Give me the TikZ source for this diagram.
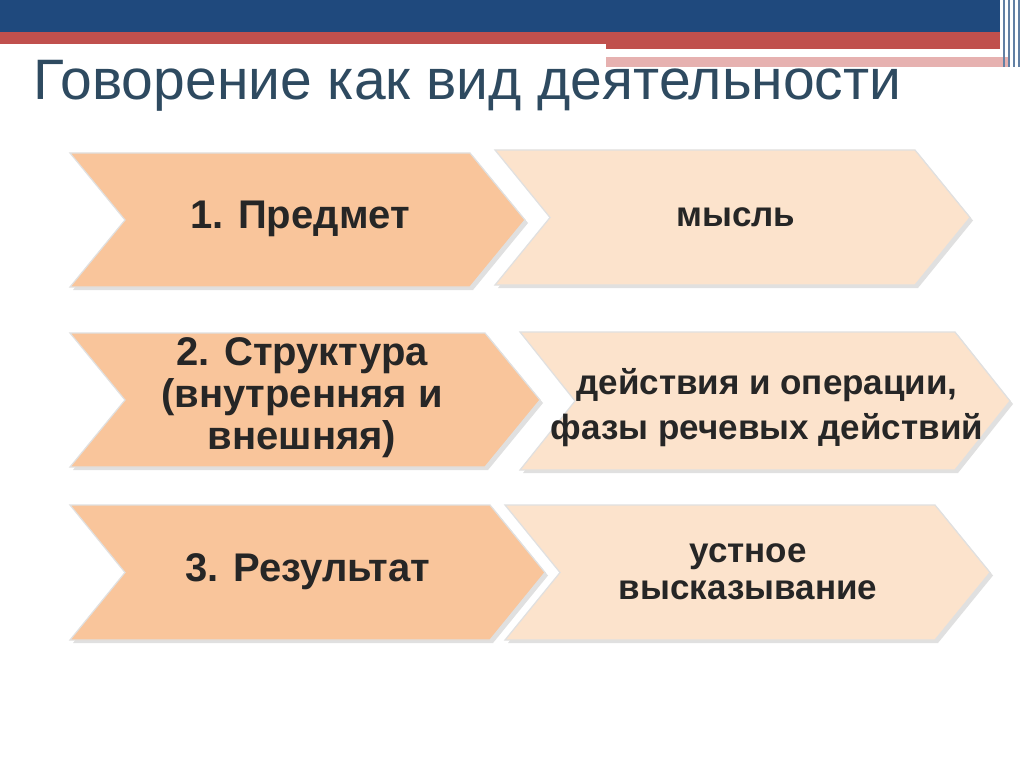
\documentclass[tikz,border=0pt]{standalone}
\usepackage{fontspec}
\setmainfont{Liberation Sans}
\definecolor{topblue}{HTML}{1F497D}
\definecolor{topred}{HTML}{C0504D}
\definecolor{toppink}{HTML}{E6B1B0}
\definecolor{leftc}{HTML}{F9C59B}
\definecolor{rightc}{HTML}{FCE3CC}
\definecolor{titlec}{HTML}{2E4A60}
\tikzset{
 chev/.style={draw=white!88!black,line width=1.2pt},
 lt/.style={font=\bfseries\fontsize{40}{42}\selectfont,align=center,text=black!85},
 rt/.style={font=\bfseries\fontsize{35}{45}\selectfont,align=center,text=black!85}
}
\newcommand{\chevron}[6]{% fill, x1, x2, ytop, ybot, depth
 \fill[black!12] ({#2+3},{-#4-3}) -- ({#3-#6+3},{-#4-3}) -- ({#3+3},{-(#4+#5)/2-3}) -- ({#3-#6+3},{-#5-3}) -- ({#2+3},{-#5-3}) -- ({#2+#6+3},{-(#4+#5)/2-3}) -- cycle;
 \draw[chev,fill=#1] (#2,-#4) -- ({#3-#6},-#4) -- (#3,{-(#4+#5)/2}) -- ({#3-#6},-#5) -- (#2,-#5) -- ({#2+#6},{-(#4+#5)/2}) -- cycle;}
\begin{document}
\begin{tikzpicture}[x=1pt,y=1pt]
\useasboundingbox (0,0) rectangle (1024,-767);
\fill[white] (0,0) rectangle (1024,-767);
\fill[topblue] (0,0) rectangle (1000,-32);
\fill[topred] (0,-32) rectangle (1000,-44);
\fill[topred] (606,-44) rectangle (1000,-49);
\fill[toppink] (606,-57) rectangle (1010,-67);
\foreach \xx in {1003,1008,1013,1018} \fill[topblue!70] (\xx,0) rectangle ({\xx+2},-67);
\node[anchor=west,text=titlec,font=\fontsize{57}{60}\selectfont] (title) at (30,-86) {Говорение как вид деятельности};
\chevron{rightc}{495}{970}{150}{285}{55}
\chevron{leftc}{70}{525}{153}{287}{55}
\chevron{rightc}{520}{1010}{332}{470}{55}
\chevron{leftc}{70}{540}{333}{467}{55}
\chevron{rightc}{505}{990}{505}{640}{55}
\chevron{leftc}{70}{545}{505}{640}{55}
\node[lt] (l1) at (300,-219) {1. Предмет};
\node[lt] (l2) at (302,-398) {2. Структура\\(внутренняя и\\внешняя)};
\node[lt] (l3) at (308,-572) {3. Результат};
\node[rt] (r1) at (736,-217) {мысль};
\node[rt] (r2) at (767,-408) {действия и операции,\\фазы речевых действий};
\node[rt,font=\bfseries\fontsize{35}{37}\selectfont] (r3) at (748,-572) {устное\\высказывание};
\end{tikzpicture}
\end{document}
